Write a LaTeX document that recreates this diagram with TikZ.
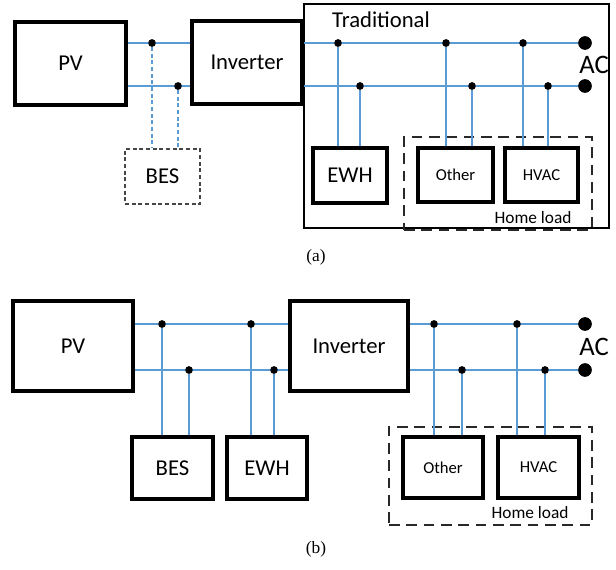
\documentclass[tikz,border=0pt]{standalone}
\usepackage{fontspec}
\setmainfont{Carlito}
\newfontfamily\captionserif{Liberation Serif}
\begin{document}
\begin{tikzpicture}[x=0.75pt,y=-0.75pt,
  box/.style={draw=black, line width=2.5pt, fill=white, inner sep=0pt, font=\fontsize{17}{20}\selectfont},
  sbox/.style={box, font=\fontsize{12.5}{15}\selectfont},
  wire/.style={draw={rgb,255:red,91;green,155;blue,213}, line width=2.1pt},
  bwire/.style={draw={rgb,255:red,91;green,155;blue,213}, line width=0.9pt, dash pattern=on 3pt off 2pt},
  dot/.style={circle, fill=black, inner sep=0pt, minimum size=5.6pt},
  acdot/.style={circle, fill=black, inner sep=0pt, minimum size=10pt},
  grp/.style={draw={rgb,255:red,40;green,40;blue,40}, line width=1.5pt, dash pattern=on 8pt off 5pt, inner sep=0pt},
  lbl/.style={inner sep=0pt},
  captext/.style={inner sep=0pt, font={\captionserif\fontsize{13}{15}\selectfont}},
]
\useasboundingbox (0,0) rectangle (616,569);

% ---------------- (a) ----------------
\node[draw=black, line width=1.6pt, inner sep=0pt, minimum width=305*0.75pt, minimum height=224*0.75pt] (trad) at (456.5,116) {};
\node[lbl, font=\fontsize{17}{20}\selectfont] (tradl) at (381,20) {Traditional};
\node[grp, minimum width=188*0.75pt, minimum height=93*0.75pt] (hlA) at (498,183.5) {};
\node[lbl, font=\fontsize{13}{15}\selectfont] (hlAl) at (533,218) {Home load};

\node[box, minimum width=111*0.75pt, minimum height=83*0.75pt] (pvA) at (70.5,63.5) {PV};
\node[box, minimum width=110*0.75pt, minimum height=83*0.75pt] (invA) at (247,62.5) {Inverter};
\node[draw={rgb,255:red,70;green,70;blue,70}, line width=0.9pt, dash pattern=on 3pt off 2pt, inner sep=0pt, minimum width=75*0.75pt, minimum height=55*0.75pt, font=\fontsize{17}{20}\selectfont] (besA) at (162.5,176.5) {BES};
\node[box, minimum width=74*0.75pt, minimum height=55*0.75pt] (ewhA) at (350,175.5) {EWH};
\node[sbox, minimum width=75*0.75pt, minimum height=54*0.75pt] (othA) at (455.5,175) {Other};
\node[sbox, minimum width=73*0.75pt, minimum height=54*0.75pt] (hvA) at (541.5,175) {HVAC};

\node[dot] (a1) at (152,43) {};
\node[dot] (a2) at (178,86) {};
\node[dot] (a3) at (338,43) {};
\node[dot] (a4) at (360,86) {};
\node[dot] (a5) at (446,43) {};
\node[dot] (a6) at (472,86) {};
\node[dot] (a7) at (523,43) {};
\node[dot] (a8) at (548,86) {};
\node[acdot] (acA1) at (585,43) {};
\node[acdot] (acA2) at (585,86) {};
\node[lbl, font=\fontsize{20}{24}\selectfont] (acAl) at (594,65) {AC};

\draw[wire] (pvA.east |- a1) -- (invA.west |- a1);
\draw[wire] (pvA.east |- a2) -- (invA.west |- a2);
\draw[wire] (invA.east |- a1) -- (acA1);
\draw[wire] (invA.east |- a2) -- (acA2);
\draw[bwire] (a1) -- (a1 |- besA.north);
\draw[bwire] (a2) -- (a2 |- besA.north);
\draw[wire] (a3) -- (a3 |- ewhA.north);
\draw[wire] (a4) -- (a4 |- ewhA.north);
\draw[wire] (a5) -- (a5 |- othA.north);
\draw[wire] (a6) -- (a6 |- othA.north);
\draw[wire] (a7) -- (a7 |- hvA.north);
\draw[wire] (a8) -- (a8 |- hvA.north);
\foreach \d in {a1,a2,a3,a4,a5,a6,a7,a8} \fill (\d) circle (2.8pt);
\fill (acA1) circle (5pt);
\fill (acA2) circle (5pt);

\node[captext] (capA) at (316,257) {(a)};

% ---------------- (b) ----------------
\node[grp, minimum width=203*0.75pt, minimum height=98*0.75pt] (hlB) at (490.5,476) {};
\node[lbl, font=\fontsize{13}{15}\selectfont] (hlBl) at (530,513) {Home load};

\node[box, minimum width=120*0.75pt, minimum height=90*0.75pt] (pvB) at (73,346) {PV};
\node[box, minimum width=118*0.75pt, minimum height=90*0.75pt] (invB) at (349,346) {Inverter};
\node[box, minimum width=81*0.75pt, minimum height=62*0.75pt] (besB) at (172.5,468) {BES};
\node[box, minimum width=80*0.75pt, minimum height=62*0.75pt] (ewhB) at (267,468) {EWH};
\node[sbox, minimum width=80*0.75pt, minimum height=61*0.75pt] (othB) at (443,467.5) {Other};
\node[sbox, minimum width=81*0.75pt, minimum height=61*0.75pt] (hvB) at (538.5,467.5) {HVAC};

\node[dot] (b1) at (162,324) {};
\node[dot] (b2) at (189,370) {};
\node[dot] (b3) at (251,324) {};
\node[dot] (b4) at (274,370) {};
\node[dot] (b5) at (434,324) {};
\node[dot] (b6) at (462,370) {};
\node[dot] (b7) at (517,324) {};
\node[dot] (b8) at (545,370) {};
\node[acdot] (acB1) at (585,324) {};
\node[acdot] (acB2) at (585,370) {};
\node[lbl, font=\fontsize{20}{24}\selectfont] (acBl) at (594,347) {AC};

\draw[wire] (pvB.east |- b1) -- (invB.west |- b1);
\draw[wire] (pvB.east |- b2) -- (invB.west |- b2);
\draw[wire] (invB.east |- b1) -- (acB1);
\draw[wire] (invB.east |- b2) -- (acB2);
\draw[wire] (b1) -- (b1 |- besB.north);
\draw[wire] (b2) -- (b2 |- besB.north);
\draw[wire] (b3) -- (b3 |- ewhB.north);
\draw[wire] (b4) -- (b4 |- ewhB.north);
\draw[wire] (b5) -- (b5 |- othB.north);
\draw[wire] (b6) -- (b6 |- othB.north);
\draw[wire] (b7) -- (b7 |- hvB.north);
\draw[wire] (b8) -- (b8 |- hvB.north);
\foreach \d in {b1,b2,b3,b4,b5,b6,b7,b8} \fill (\d) circle (2.8pt);
\fill (acB1) circle (5pt);
\fill (acB2) circle (5pt);

\node[captext] (capB) at (316,549) {(b)};
\end{tikzpicture}
\end{document}
